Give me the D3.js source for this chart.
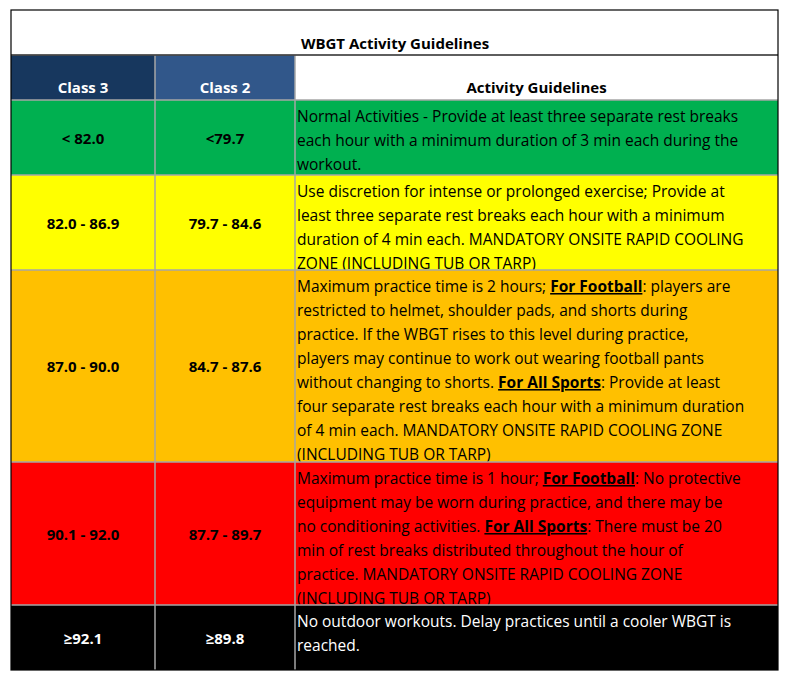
<!DOCTYPE html>
<html><head><meta charset="utf-8">
<script src="https://cdn.jsdelivr.net/npm/d3@7"></script>
<style>body{margin:0;background:#fff}</style>
</head><body>
<div id="chart"></div>
<script>
const title = "WBGT Activity Guidelines";
const headers = ["Class 3", "Class 2", "Activity Guidelines"];
const class3 = ["< 82.0", "82.0 - 86.9", "87.0 - 90.0", "90.1 - 92.0", "\u226592.1"];
const class2 = ["<79.7", "79.7 - 84.6", "84.7 - 87.6", "87.7 - 89.7", "\u226589.8"];
const rowColors = ["#00b050", "#ffff00", "#ffc000", "#ff0000", "#000000"];
const textColors = ["#000", "#000", "#000", "#000", "#fff"];
// *text* marks bold underlined segments
const guidelines = [
  ["Normal Activities - Provide at least three separate rest breaks",
   "each hour with a minimum duration of 3 min each during the",
   "workout."],
  ["Use discretion for intense or prolonged exercise; Provide at",
   "least three separate rest breaks each hour with a minimum",
   "duration of 4 min each. MANDATORY ONSITE RAPID COOLING",
   "ZONE (INCLUDING TUB OR TARP)"],
  ["Maximum practice time is 2 hours; *For Football*: players are",
   "restricted to helmet, shoulder pads, and shorts during",
   "practice. If the WBGT rises to this level during practice,",
   "players may continue to work out wearing football pants",
   "without changing to shorts. *For All Sports*: Provide at least",
   "four separate rest breaks each hour with a minimum duration",
   "of 4 min each. MANDATORY ONSITE RAPID COOLING ZONE",
   "(INCLUDING TUB OR TARP)"],
  ["Maximum practice time is 1 hour; *For Football*: No protective",
   "equipment may be worn during practice, and there may be",
   "no conditioning activities. *For All Sports*: There must be 20",
   "min of rest breaks distributed throughout the hour of",
   "practice. MANDATORY ONSITE RAPID COOLING ZONE",
   "(INCLUDING TUB OR TARP)"],
  ["No outdoor workouts. Delay practices until a cooler WBGT is",
   "reached."]
];
const rowBounds = [100, 175, 270, 462, 605, 670];

const W = 787, H = 675;
const font = "'Open Sans', 'Liberation Sans', sans-serif";
const colX = [11, 155, 295, 778];
const svg = d3.select("#chart").append("svg").attr("width", W).attr("height", H)
  .style("font-family", font);

// title
svg.append("rect").attr("x", 11).attr("y", 10).attr("width", 767).attr("height", 45).attr("fill", "#fff");
svg.append("text").attr("x", 395).attr("y", 49).attr("text-anchor", "middle")
  .attr("font-weight", "bold").attr("font-size", 15).text(title);

// header
const hdrFill = ["#17375e", "#31578a", "#fff"];
headers.forEach((h, i) => {
  svg.append("rect").attr("x", colX[i]).attr("y", 55).attr("width", colX[i + 1] - colX[i]).attr("height", 45)
    .attr("fill", hdrFill[i]);
  svg.append("text").attr("x", (colX[i] + colX[i + 1]) / 2).attr("y", 93).attr("text-anchor", "middle")
    .attr("font-weight", "bold").attr("font-size", 15).attr("fill", i < 2 ? "#fff" : "#000").text(h);
});

const y = d3.scaleOrdinal().domain(d3.range(5)).range(rowBounds.slice(0, 5));
const hgt = i => rowBounds[i + 1] - rowBounds[i];

d3.range(5).forEach(i => {
  const g = svg.append("g");
  g.append("rect").attr("x", 11).attr("y", y(i)).attr("width", 767).attr("height", hgt(i)).attr("fill", rowColors[i]);
  [class3[i], class2[i]].forEach((v, j) => {
    g.append("text").attr("x", (colX[j] + colX[j + 1]) / 2).attr("y", y(i) + hgt(i) / 2 + 6)
      .attr("text-anchor", "middle").attr("font-weight", "bold").attr("font-size", 15)
      .attr("fill", textColors[i]).text(v);
  });
  guidelines[i].forEach((line, k) => {
    const t = g.append("text").attr("x", 297).attr("y", y(i) + 22 + k * 24)
      .attr("font-size", 15.5).attr("fill", textColors[i]);
    line.split("*").forEach((seg, s) => {
      const ts = t.append("tspan").text(seg);
      if (s % 2 === 1) ts.attr("font-weight", "bold").attr("text-decoration", "underline");
    });
    const len = t.node().getComputedTextLength();
    if (len > 477) t.attr("textLength", 477).attr("lengthAdjust", "spacingAndGlyphs");
  });
});

// grid lines
const grid = svg.append("g").attr("stroke", "#a6a6a6").attr("stroke-width", 1.5);
[155, 295].forEach(x => grid.append("line").attr("x1", x).attr("x2", x).attr("y1", 55).attr("y2", 670));
[55].concat(rowBounds.slice(0, 5)).forEach(yy => grid.append("line").attr("x1", 11).attr("x2", 778).attr("y1", yy).attr("y2", yy));
svg.append("line").attr("x1", 11).attr("x2", 778).attr("y1", 55).attr("y2", 55).attr("stroke", "#000");
svg.append("rect").attr("x", 11).attr("y", 10).attr("width", 767).attr("height", 660)
  .attr("fill", "none").attr("stroke", "#000").attr("stroke-width", 1.2);
</script>
</body></html>
